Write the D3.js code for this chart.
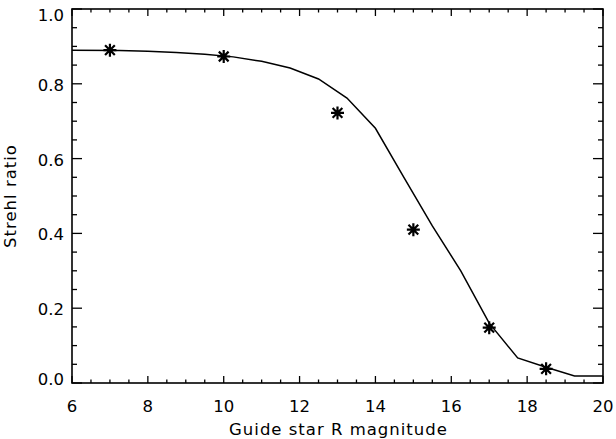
<!DOCTYPE html>
<html>
<head>
<meta charset="utf-8">
<script src="https://cdn.jsdelivr.net/npm/d3@7"></script>
<style>
  body { margin: 0; background: #fff; }
  text { font-family: "DejaVu Sans", sans-serif; fill: #000; }
</style>
</head>
<body>
<div id="chart"></div>
<script>
// measured points (stars)
const starMag = [7, 10, 13, 15, 17, 18.5]
const starStrehl = [0.89, 0.873, 0.722, 0.41, 0.148, 0.038]
// model curve
const curveMag = [6, 7.25, 8, 8.75, 9.5, 10.25, 11, 11.75, 12.5, 13.25, 14, 14.75, 15.5, 16.25, 17, 17.75, 18.5, 19.25, 20]
const curveStrehl = [0.89, 0.889, 0.887, 0.884, 0.879, 0.872, 0.86, 0.842, 0.813, 0.762, 0.681, 0.55, 0.42, 0.3, 0.16, 0.067, 0.042, 0.019, 0.019]
const xTicks = [6, 8, 10, 12, 14, 16, 18, 20]
const yTicks = [0, 0.2, 0.4, 0.6, 0.8, 1.0]

const width = 616, height = 439
const padL = 72, padR = 603, padT = 9, padB = 383

const svg = d3.select("#chart").append("svg")
  .attr("width", width).attr("height", height)

const x = d3.scaleLinear().domain([6, 20]).range([padL, padR])
const y = d3.scaleLinear().domain([0, 1]).range([padB, padT])

const xMinor = d3.range(6, 20.001, 0.5)
const yMinor = d3.range(0, 1.0001, 0.05)

// frame ticks on all four sides
const ticks = svg.append("g").attr("stroke", "#000").attr("stroke-width", 1.3)
xMinor.forEach(v => {
  const len = xTicks.includes(v) ? 7 : 3.5
  ticks.append("line").attr("x1", x(v)).attr("x2", x(v)).attr("y1", padB).attr("y2", padB - len)
  ticks.append("line").attr("x1", x(v)).attr("x2", x(v)).attr("y1", padT).attr("y2", padT + len)
})
yMinor.forEach(v => {
  const major = yTicks.some(t => Math.abs(t - v) < 1e-6)
  const len = major ? 10 : 5
  ticks.append("line").attr("y1", y(v)).attr("y2", y(v)).attr("x1", padL).attr("x2", padL + len)
  ticks.append("line").attr("y1", y(v)).attr("y2", y(v)).attr("x1", padR).attr("x2", padR - len)
})

svg.append("rect")
  .attr("x", padL).attr("y", padT)
  .attr("width", padR - padL).attr("height", padB - padT)
  .attr("fill", "none").attr("stroke", "#000").attr("stroke-width", 1.6)

// tick labels
svg.append("g").selectAll("text").data(xTicks).join("text")
  .attr("x", d => x(d)).attr("y", 412)
  .attr("text-anchor", "middle").attr("font-size", 16.5)
  .text(d => d)

svg.append("g").selectAll("text").data(yTicks).join("text")
  .attr("x", 64)
  .attr("y", (d, i) => {
    let c = y(d) + 1.5
    if (i === 0) c = y(d) - 4
    if (i === yTicks.length - 1) c = y(d) + 6
    return c
  })
  .attr("dominant-baseline", "central")
  .attr("text-anchor", "end").attr("font-size", 16.5)
  .text(d => d3.format(".1f")(d))

// axis titles
svg.append("text")
  .attr("x", (padL + padR) / 2 + 1).attr("y", 435)
  .attr("text-anchor", "middle").attr("font-size", 16.5)
  .attr("letter-spacing", 1)
  .text("Guide star R magnitude")

svg.append("text")
  .attr("transform", `translate(16,${(padT + padB) / 2}) rotate(-90)`)
  .attr("text-anchor", "middle").attr("font-size", 16.5)
  .attr("letter-spacing", 1)
  .text("Strehl ratio")

// curve
const curve = curveMag.map((m, i) => [m, curveStrehl[i]])
svg.append("path")
  .datum(curve)
  .attr("fill", "none").attr("stroke", "#000").attr("stroke-width", 1.5)
  .attr("d", d3.line().x(d => x(d[0])).y(d => y(d[1])))

// asterisk markers
const r = 6.5
const star = "M0," + (-r) + "V" + r + "M" + (-r) + ",0H" + r +
  "M" + (-r * 0.75) + "," + (-r * 0.75) + "L" + (r * 0.75) + "," + (r * 0.75) +
  "M" + (-r * 0.75) + "," + (r * 0.75) + "L" + (r * 0.75) + "," + (-r * 0.75)
svg.append("g").selectAll("path").data(starMag).join("path")
  .attr("transform", (d, i) => `translate(${x(d)},${y(starStrehl[i])})`)
  .attr("d", star)
  .attr("fill", "none").attr("stroke", "#000").attr("stroke-width", 2.2)
</script>
</body>
</html>
